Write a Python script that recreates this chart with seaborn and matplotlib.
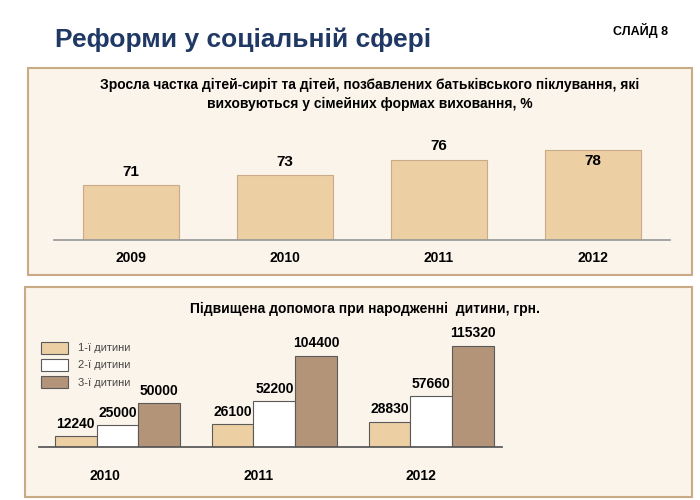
import pandas as pd
import matplotlib.pyplot as plt
import seaborn as sns
from matplotlib.patches import Rectangle

# дані
years_top = ['2009', '2010', '2011', '2012']
share_pct = [71, 73, 76, 78]

years_bottom = ['2010', '2011', '2012']
child_labels = ['1-ї дитини', '2-ї дитини', '3-ї дитини']
first_child = [12240, 26100, 28830]
second_child = [25000, 52200, 57660]
third_child = [50000, 104400, 115320]

tan = '#ecd0a4'
brown = '#b39479'
panel_bg = '#fbf4ea'
panel_edge = '#c8aa85'

sns.set_theme(style="white")
plt.rcParams['font.family'] = ['Liberation Sans', 'DejaVu Sans']
plt.rcParams['text.color'] = 'black'
plt.rcParams['xtick.color'] = 'black'

fig = plt.figure(figsize=(7, 5), dpi=100)

def px(x, y, w, h):
    return [x / 700, 1 - (y + h) / 500, w / 700, h / 500]

# рамки панелей
for (x, y, w, h) in [(28, 68, 664, 207), (25, 287, 667, 210)]:
    fig.patches.append(Rectangle((x / 700, 1 - (y + h) / 500), w / 700, h / 500,
                                 transform=fig.transFigure, facecolor=panel_bg,
                                 edgecolor=panel_edge, linewidth=1.5, zorder=-5))

fig.text(55 / 700, 1 - 40 / 500, 'Реформи у соціальній сфері', fontsize=19,
         color='#1f3864', fontweight='bold', va='center')
fig.text(668 / 700, 1 - 30 / 500, 'СЛАЙД 8', fontsize=9, fontweight='bold',
         ha='right', va='center')

# верхній графік
ax1 = fig.add_axes(px(54, 100, 616, 140))
ax1.set_zorder(5)
df1 = pd.DataFrame({'year': years_top, 'value': share_pct})
sns.barplot(data=df1, x='year', y='value', color=tan, width=0.62,
            edgecolor='#c9ab88', linewidth=0.8, saturation=1, ax=ax1)
ax1.set_ylim(60, 88)
ax1.set_xlim(-0.5, 3.5)
for i, v in enumerate(share_pct):
    if i == 3:
        ax1.text(i, v - 0.8, str(v), ha='center', va='top', fontsize=11, fontweight='bold')
    else:
        ax1.text(i, v + 1.3, str(v), ha='center', va='bottom', fontsize=11, fontweight='bold')
ax1.set_facecolor('none')
for s in ['top', 'right', 'left']:
    ax1.spines[s].set_visible(False)
ax1.spines['bottom'].set_color('#999999')
ax1.set_yticks([])
ax1.set_xlabel('')
ax1.set_ylabel('')
ax1.tick_params(axis='x', length=0, pad=8, labelsize=10)
for t in ax1.get_xticklabels():
    t.set_fontweight('bold')
fig.text(370 / 700, 1 - 85 / 500, 'Зросла частка дітей-сиріт та дітей, позбавлених батьківського піклування, які',
         ha='center', va='center', fontsize=10, fontweight='bold')
fig.text(370 / 700, 1 - 104 / 500, 'виховуються у сімейних формах виховання, %',
         ha='center', va='center', fontsize=10, fontweight='bold')

# нижній графік
ax2 = fig.add_axes(px(39, 320, 463, 127))
ax2.set_zorder(5)
df2 = pd.DataFrame({
    'year': years_bottom * 3,
    'child': sum([[c] * 3 for c in child_labels], []),
    'value': first_child + second_child + third_child,
})
sns.barplot(data=df2, x='year', y='value', hue='child', hue_order=child_labels,
            palette=[tan, 'white', brown], edgecolor='#5a5a5a', linewidth=0.8,
            width=0.8, saturation=1, ax=ax2)
ax2.set_ylim(0, 145000)
ax2.set_xlim(-0.5, 2.45)
for cont in ax2.containers:
    ax2.bar_label(cont, padding=4, fontsize=10, fontweight='bold')
ax2.set_facecolor('none')
for s in ['top', 'right', 'left']:
    ax2.spines[s].set_visible(False)
ax2.spines['bottom'].set_color('#555555')
ax2.set_yticks([])
ax2.set_xlabel('')
ax2.set_ylabel('')
ax2.set_xticks([-0.08, 0.9, 1.93])
ax2.set_xticklabels(years_bottom)
ax2.tick_params(axis='x', length=0, pad=16, labelsize=10)
for t in ax2.get_xticklabels():
    t.set_fontweight('bold')
leg = ax2.legend(loc='upper left', bbox_to_anchor=(0.005, 0.83), frameon=False,
                 fontsize=8, handlelength=2.4, handleheight=1.3, labelspacing=0.45,
                 borderaxespad=0, borderpad=0, handletextpad=0.9)
for t in leg.get_texts():
    t.set_color('#444444')
fig.text(365 / 700, 1 - 309 / 500, 'Підвищена допомога при народженні  дитини, грн.',
         ha='center', va='center', fontsize=10, fontweight='bold')

fig.savefig('out.png', dpi=100)
